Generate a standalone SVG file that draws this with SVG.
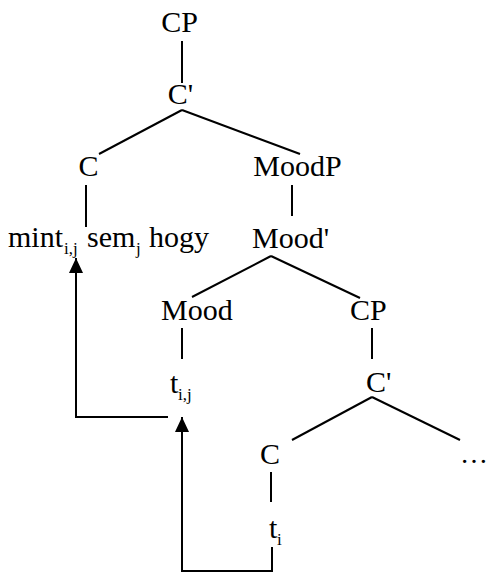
<svg xmlns="http://www.w3.org/2000/svg" width="489" height="574" viewBox="0 0 489 574">
<defs>
<style>
text{font-family:"Liberation Serif","Times New Roman",serif;font-size:30px;fill:#000}
.sub{font-size:17px}
line,path.c{stroke:#000;stroke-width:2;fill:none}
</style>
<marker id="ah" viewBox="0 0 15 14" refX="15" refY="7" markerWidth="15" markerHeight="14" orient="auto" markerUnits="userSpaceOnUse">
<path d="M0,0 L15,7 L0,14 z" fill="#000"/>
</marker>
</defs>
<rect width="489" height="574" fill="#fff"/>
<g id="connectors">
<line x1="182" y1="41" x2="182" y2="83"/>
<line x1="182" y1="110" x2="99" y2="154"/>
<line x1="182" y1="110" x2="300" y2="154"/>
<line x1="86" y1="185" x2="86" y2="227"/>
<line x1="292" y1="185" x2="292" y2="216"/>
<line x1="271" y1="256" x2="192" y2="297"/>
<line x1="271" y1="256" x2="360" y2="298"/>
<line x1="182" y1="328" x2="182" y2="359"/>
<line x1="372" y1="328" x2="372" y2="359"/>
<line x1="372" y1="397" x2="292" y2="440"/>
<line x1="372" y1="397" x2="460" y2="440"/>
<line x1="271" y1="472" x2="271" y2="502"/>
<path class="c" d="M168,417 H76 V258" marker-end="url(#ah)"/>
<path class="c" d="M272,547 V571 H182 V417" marker-end="url(#ah)"/>
</g>
<g id="n-cp1"><text x="179.5" y="32" text-anchor="middle">CP</text></g>
<g id="n-cbar1"><text x="180.5" y="104" text-anchor="middle">C'</text></g>
<g id="n-c1"><text x="88.5" y="176" text-anchor="middle">C</text></g>
<g id="n-moodp"><text x="297.5" y="176" text-anchor="middle">MoodP</text></g>
<g id="n-mint"><text y="247"><tspan x="8">mint</tspan><tspan class="sub" x="64" dy="7">i,j</tspan><tspan x="87" dy="-7">sem</tspan><tspan class="sub" x="136" dy="7">j</tspan><tspan x="149" dy="-7">hogy</tspan></text></g>
<g id="n-moodbar"><text x="252" y="248">Mood'</text></g>
<g id="n-mood"><text x="161" y="320">Mood</text></g>
<g id="n-cp2"><text x="350" y="320">CP</text></g>
<g id="n-tij"><text y="393"><tspan x="170">t</tspan><tspan class="sub" x="178" dy="7">i,j</tspan></text></g>
<g id="n-cbar2"><text x="366" y="392">C'</text></g>
<g id="n-c2"><text x="260" y="464">C</text></g>
<g id="n-dots"><text x="460" y="463" style="font-size:28px">…</text></g>
<g id="n-ti"><text y="538"><tspan x="269">t</tspan><tspan class="sub" x="277" dy="7">i</tspan></text></g>
</svg>
